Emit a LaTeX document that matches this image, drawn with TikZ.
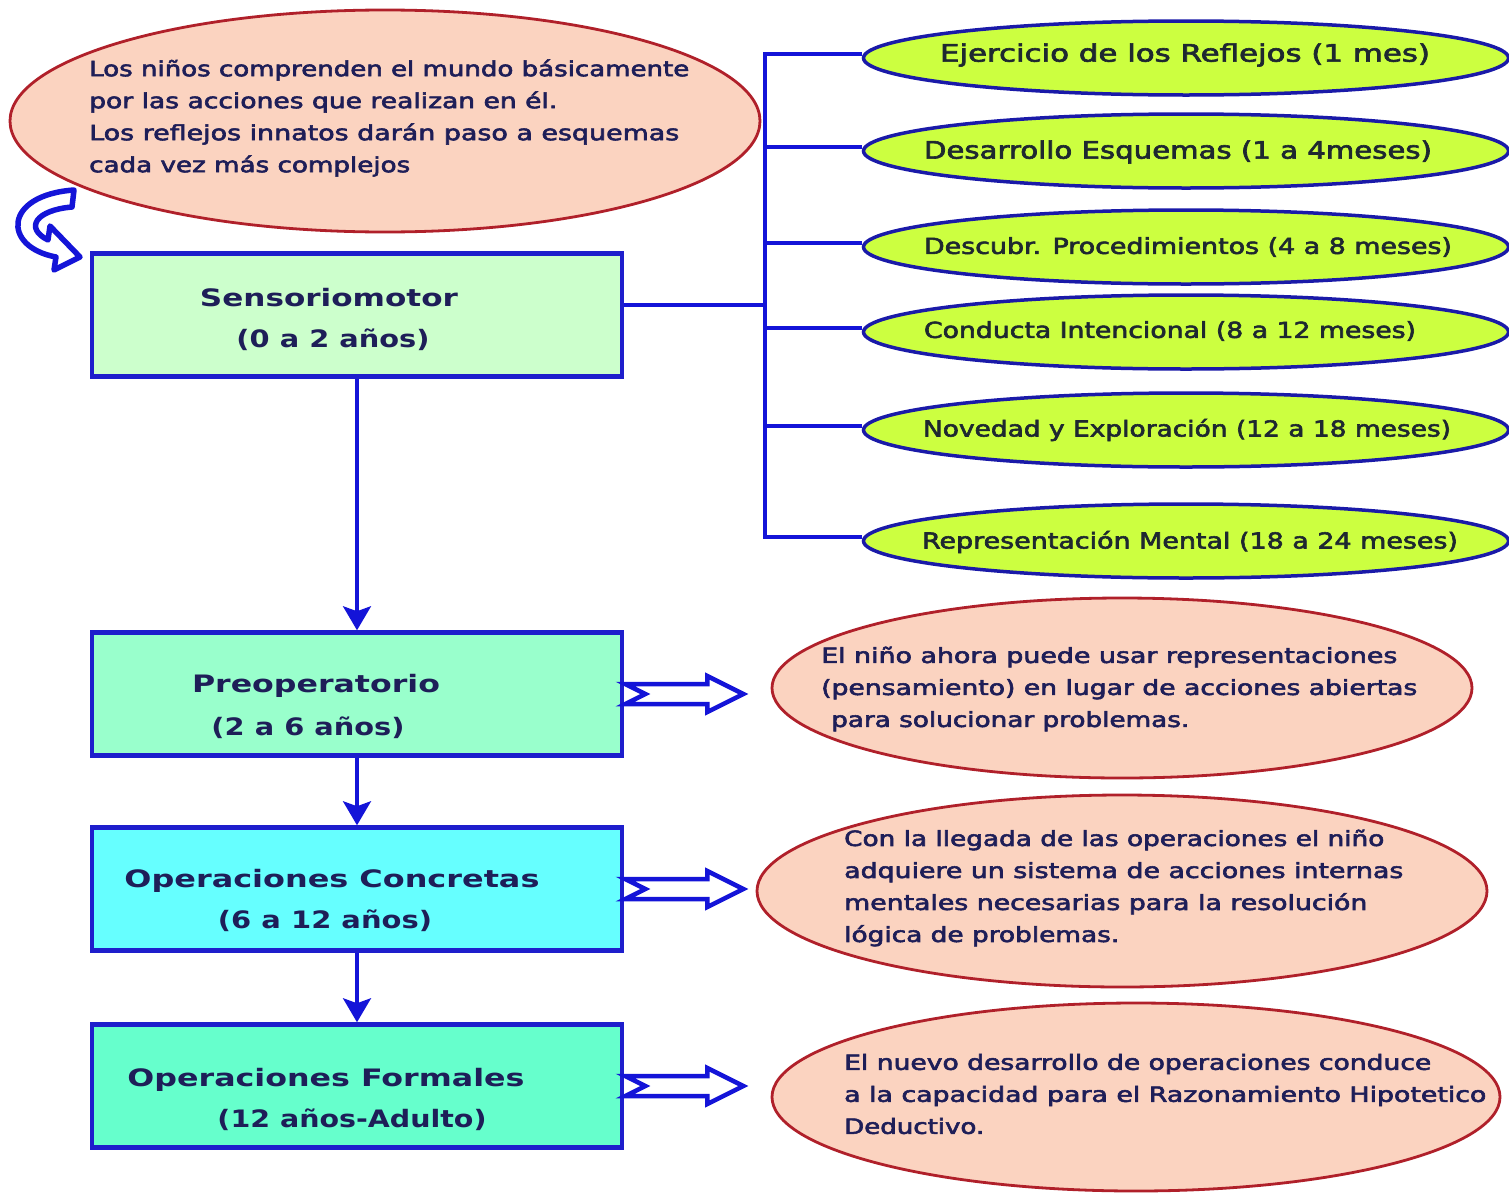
\documentclass[tikz,border=0pt]{standalone}
\usepackage{fontspec}
\setmainfont{DejaVu Sans}
\newfontfamily\medfont[FakeBold=2.5]{DejaVu Sans}
\usepackage{graphicx}
\usetikzlibrary{shapes.geometric,arrows.meta,calc}
\definecolor{navy}{HTML}{1E1E58}
\definecolor{darktext}{HTML}{1E2830}
\definecolor{lineblue}{HTML}{1414D8}
\definecolor{boxblue}{HTML}{1E1ECC}
\definecolor{salmon}{HTML}{FBD3C0}
\definecolor{darkred}{HTML}{B0202A}
\definecolor{lime}{HTML}{CCFF40}
\definecolor{ellblue}{HTML}{1A1AA8}
\definecolor{fsens}{HTML}{CCFFCC}
\definecolor{fpre}{HTML}{99FFCC}
\definecolor{fconc}{HTML}{66FFFF}
\definecolor{fform}{HTML}{66FFCC}
\newcommand\fl[2]{\resizebox{#1pt}{\height}{#2}}
\tikzset{
 stagebox/.style={draw=boxblue, line width=4.5pt, minimum width=530pt, minimum height=123pt, inner sep=0pt},
 limeell/.style={ellipse, draw=ellblue, fill=lime, line width=3.5pt, minimum width=645pt, minimum height=74pt, inner sep=0pt},
 peachell/.style={ellipse, draw=darkred, fill=salmon, line width=2.8pt, inner sep=0pt},
 conn/.style={draw=lineblue, line width=3.2pt},
 varrow/.style={conn, -{Stealth[width=28pt,length=24pt,inset=5pt]}},
 blockarrow/.style={draw=lineblue, fill=white, line width=4.5pt, line join=miter},
 desc/.style={font=\medfont\fontsize{21}{32}\selectfont, text=navy, align=left, inner sep=0pt, anchor=west},
 lbl/.style={font=\medfont\fontsize{24}{30}\selectfont, text=darktext, inner sep=0pt},
 lbls/.style={font=\medfont\fontsize{22}{30}\selectfont, text=darktext, inner sep=0pt},
 stagelbl/.style={font=\bfseries\fontsize{24}{30}\selectfont, text=navy, inner sep=0pt},
}
\begin{document}
\begin{tikzpicture}[x=1pt,y=-1pt]
\useasboundingbox[fill=white] (0,0) rectangle (1509,1194);

% top-left description
\node[peachell, minimum width=750pt, minimum height=222pt] (tl) at (385,121) {};
\node[desc] (tltext) at (89,118) {\fl{600}{Los niños comprenden el mundo básicamente}\\
\fl{468}{por las acciones que realizan en él.}\\
\fl{590}{Los reflejos innatos darán paso a esquemas}\\
\fl{321}{cada vez más complejos}};

% curved arrow
\draw[blockarrow, line width=5.5pt, line join=round] (74,190) -- (72,207)
  .. controls (36,210) and (24,228) .. (48,240) -- (50,226) -- (80,257) -- (54,270)
  -- (56,257) .. controls (2,247) and (3,195) .. cycle;

% stage boxes
\node[stagebox, fill=fsens] (sens) at (357,315) {};
\node[stagebox, fill=fpre] (pre) at (357,694) {};
\node[stagebox, fill=fconc] (conc) at (357,889) {};
\node[stagebox, fill=fform] (form) at (357,1086) {};

\node[stagelbl] (sens1) at (329,298) {\fl{258}{Sensoriomotor}};
\node[stagelbl] (sens2) at (333,340) {\fl{193}{(0 a 2 años)}};
\node[stagelbl] (pre1) at (316,686) {\fl{248}{Preoperatorio}};
\node[stagelbl] (pre2) at (308,728) {\fl{193}{(2 a 6 años)}};
\node[stagelbl] (conc1) at (332,881) {\fl{415}{Operaciones Concretas}};
\node[stagelbl] (conc2) at (325,921) {\fl{214}{(6 a 12 años)}};
\node[stagelbl] (form1) at (326,1080) {\fl{397}{Operaciones Formales}};
\node[stagelbl] (form2) at (352,1120) {\fl{269}{(12 años-Adulto)}};

% vertical arrows
\draw[varrow] (sens.south) -- (pre.north);
\draw[varrow] (pre.south) -- (conc.north);
\draw[varrow] (conc.south) -- (form.north);

% sub-stages
\node[limeell] (e1) at (1186,58) {};
\node[limeell] (e2) at (1186,151) {};
\node[limeell] (e3) at (1186,247) {};
\node[limeell] (e4) at (1186,332) {};
\node[limeell] (e5) at (1186,430) {};
\node[limeell] (e6) at (1186,541) {};
\node[lbl] (t1) at (1185,55) {\fl{490}{Ejercicio de los Reflejos (1 mes)}};
\node[lbl] (t2) at (1178,152) {\fl{508}{Desarrollo Esquemas (1 a 4meses)}};
\node[lbls] (t3) at (1188,247) {\fl{528}{Descubr. Procedimientos (4 a 8 meses)}};
\node[lbls] (t4) at (1170,331) {\fl{492}{Conducta Intencional (8 a 12 meses)}};
\node[lbls] (t5) at (1187,430) {\fl{528}{Novedad y Exploración (12 a 18 meses)}};
\node[lbls] (t6) at (1190,542) {\fl{536}{Representación Mental (18 a 24 meses)}};

\coordinate (j) at (765,305);
\draw[conn] ([yshift=10pt]sens.east) -- (j);
\foreach \e in {e1,e2,e3,e4,e5,e6} { \draw[conn] (j) |- ([yshift=4pt]\e.west); }

% right descriptions
\node[peachell, minimum width=700pt, minimum height=180pt] (r1) at (1122,688) {};
\node[desc] (r1text) at (821,689) {\fl{576}{El niño ahora puede usar representaciones}\\
\fl{596}{(pensamiento) en lugar de acciones abiertas}\\
\hspace*{10pt}\fl{358}{para solucionar problemas.}};

\node[peachell, minimum width=730pt, minimum height=192pt] (r2) at (1122,891) {};
\node[desc] (r2text) at (844,888) {\fl{540}{Con la llegada de las operaciones el niño}\\
\fl{559}{adquiere un sistema de acciones internas}\\
\fl{523}{mentales necesarias para la resolución}\\
\fl{275}{lógica de problemas.}};

\node[peachell, minimum width=728pt, minimum height=188pt] (r3) at (1136,1097) {};
\node[desc] (r3text) at (844,1094) {\fl{587}{El nuevo desarrollo de operaciones conduce}\\
\fl{642}{a la capacidad para el Razonamiento Hipotetico}\\
\fl{140}{Deductivo.}};

% block arrows
\draw[blockarrow] (pre.east) ++(1,-10) -- ++(82,0) -- ++(0,-8) -- ++(36,18) -- ++(-36,18) -- ++(0,-8) -- ++(-82,0) -- ++(20,-10) -- cycle;
\draw[blockarrow] (conc.east) ++(1,-10) -- ++(82,0) -- ++(0,-8) -- ++(36,18) -- ++(-36,18) -- ++(0,-8) -- ++(-82,0) -- ++(20,-10) -- cycle;
\draw[blockarrow] (form.east) ++(1,-10) -- ++(82,0) -- ++(0,-8) -- ++(36,18) -- ++(-36,18) -- ++(0,-8) -- ++(-82,0) -- ++(20,-10) -- cycle;
\end{tikzpicture}
\end{document}
